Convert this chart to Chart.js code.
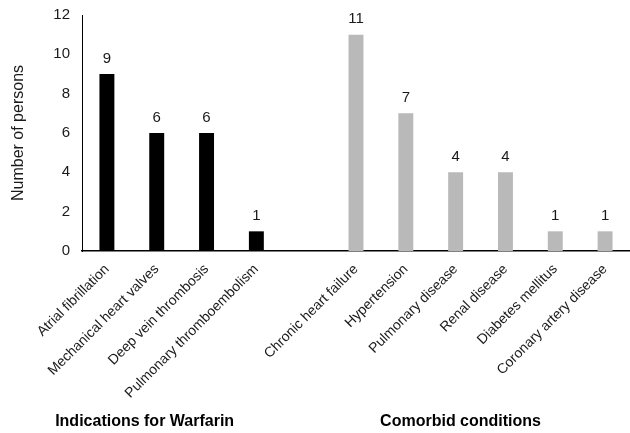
<!DOCTYPE html>
<html>
<head>
<meta charset="utf-8">
<script src="https://cdn.jsdelivr.net/npm/chart.js@4/dist/chart.umd.min.js"></script>
<style>
  html, body { margin: 0; padding: 0; background: #fff; }
  #wrap { width: 630px; height: 433px; }
</style>
</head>
<body>
<div id="wrap"><canvas id="chart"></canvas></div>
<script>
// one empty slot separates the two groups
const categories = ["Atrial fibrillation", "Mechanical heart valves", "Deep vein thrombosis", "Pulmonary thromboembolism", "",
    "Chronic heart failure", "Hypertension", "Pulmonary disease", "Renal disease", "Diabetes mellitus", "Coronary artery disease"]
const persons = [9, 6, 6, 1, null, 11, 7, 4, 4, 1, 1]
const groupNames = ["Indications for Warfarin", "Comorbid conditions"]
const groupFirst = [0, 5]
const groupLast = [3, 10]
const yTicks = [0, 2, 4, 6, 8, 10, 12]

const barColors = persons.map((v, i) => i < 4 ? "#000000" : "#b9b9b9")

const fontFamily = "'Liberation Sans', Arial, sans-serif"

const valueLabels = {
    id: "valueLabels",
    afterDatasetsDraw(chart) {
        const ctx = chart.ctx
        const meta = chart.getDatasetMeta(0)
        ctx.save()
        ctx.font = "15px " + fontFamily
        ctx.fillStyle = "#1a1a1a"
        ctx.textAlign = "center"
        ctx.textBaseline = "bottom"
        meta.data.forEach((bar, i) => {
            if (persons[i] == null) return
            ctx.fillText(String(persons[i]), bar.x, bar.y - 8)
        })
        ctx.restore()
    }
}

const groupLabels = {
    id: "groupLabels",
    afterDraw(chart) {
        const ctx = chart.ctx
        const x = chart.scales.x
        const offsets = [-37, -20]
        ctx.save()
        ctx.font = "bold 16px " + fontFamily
        ctx.fillStyle = "#000"
        ctx.textAlign = "center"
        ctx.textBaseline = "middle"
        groupNames.forEach((name, g) => {
            const mid = (x.getPixelForValue(groupFirst[g]) + x.getPixelForValue(groupLast[g])) / 2
            ctx.fillText(name, mid + offsets[g], 422)
        })
        ctx.restore()
    }
}

new Chart(document.getElementById("chart"), {
    type: "bar",
    data: {
        labels: categories,
        datasets: [{
            data: persons,
            backgroundColor: barColors,
            categoryPercentage: 1,
            barPercentage: 0.3
        }]
    },
    options: {
        responsive: true,
        maintainAspectRatio: false,
        animation: false,
        layout: { padding: 0 },
        plugins: {
            legend: { display: false },
            tooltip: { enabled: false }
        },
        scales: {
            x: {
                grid: { display: false, drawTicks: false },
                border: { color: "#000", width: 1.5 },
                ticks: {
                    color: "#1a1a1a",
                    font: { family: fontFamily, size: 14 },
                    maxRotation: 45,
                    minRotation: 45,
                    autoSkip: false,
                    padding: 10
                },
                afterFit(scale) { scale.height = 182 }
            },
            y: {
                min: 0,
                max: 12,
                afterBuildTicks(scale) { scale.ticks = yTicks.map(v => ({ value: v })) },
                grid: { display: false, drawTicks: false },
                border: { color: "#000", width: 1 },
                ticks: {
                    color: "#1a1a1a",
                    font: { family: fontFamily, size: 15 },
                    padding: 12
                },
                title: {
                    display: true,
                    text: "Number of persons",
                    color: "#1a1a1a",
                    font: { family: fontFamily, size: 16 },
                    padding: { top: 9, bottom: 10 }
                },
                afterFit(scale) {
                    scale.width = 82
                    scale.paddingTop = 15
                }
            }
        }
    },
    plugins: [valueLabels, groupLabels]
})
</script>
</body>
</html>
